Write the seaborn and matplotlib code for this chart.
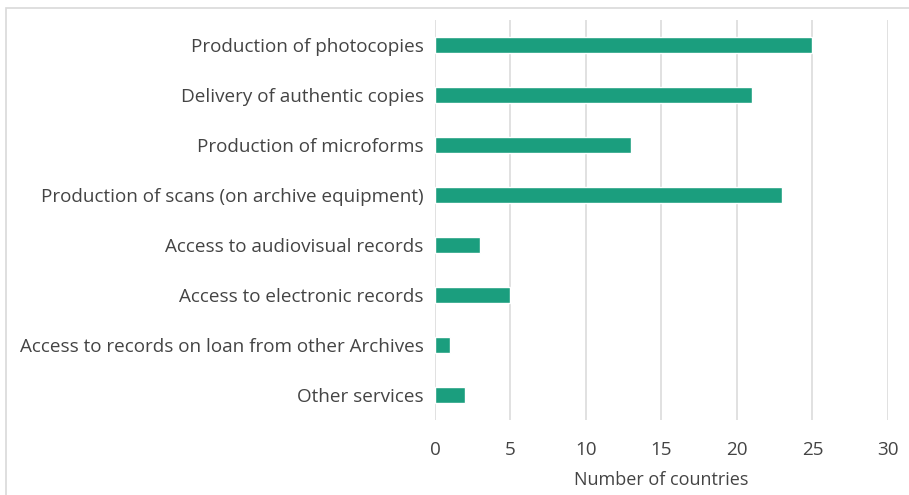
import matplotlib
matplotlib.use("Agg")
import matplotlib.pyplot as plt
import seaborn as sns
import pandas as pd
from matplotlib.patches import Rectangle

services = [
    "Production of photocopies",
    "Delivery of authentic copies",
    "Production of microforms",
    "Production of scans (on archive equipment)",
    "Access to audiovisual records",
    "Access to electronic records",
    "Access to records on loan from other Archives",
    "Other services",
]
countries = [25, 21, 13, 23, 3, 5, 1, 2]
x_ticks = [0, 5, 10, 15, 20, 25, 30]

df = pd.DataFrame({"service": services, "countries": countries})

sns.set_theme(style="white")
plt.rcParams["font.family"] = ["Open Sans", "DejaVu Sans"]

text_color = "#444444"
bar_color = "#1b9e7e"
grid_color = "#dcdcdc"

fig = plt.figure(figsize=(9.09, 4.95), dpi=100)
ax = fig.add_axes([0.4785, 0.1515, 0.4984, 0.8081])

sns.barplot(data=df, x="countries", y="service", orient="h",
            color=bar_color, width=0.32, saturation=1, ax=ax, zorder=3)

ax.set_xlim(0, 30)
ax.set_ylim(7.5, -0.5)
ax.set_xticks(x_ticks)
ax.set_xticklabels([str(t) for t in x_ticks])
ax.grid(axis="x", color=grid_color, linewidth=1.2, zorder=0)
ax.grid(axis="y", visible=False)
for s in ax.spines.values():
    s.set_visible(False)
ax.tick_params(axis="both", length=0, labelsize=13.6, colors=text_color)
ax.tick_params(axis="x", pad=15)
ax.tick_params(axis="y", pad=8)
ax.set_ylabel("")
ax.set_xlabel("Number of countries", fontsize=13, color=text_color, labelpad=9)

# light frame around the chart area
fig.add_artist(Rectangle((6 / 909, -0.01), 1.0, 1 - 8 / 495 + 0.01,
                         transform=fig.transFigure, fill=False,
                         edgecolor="#d9d9d9", linewidth=1.2))

fig.savefig("out.png", dpi=100)
